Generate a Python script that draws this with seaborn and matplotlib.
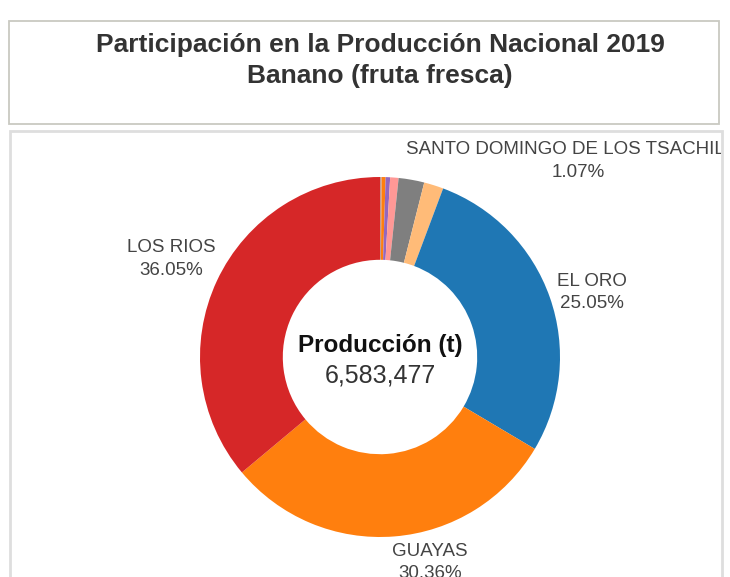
import matplotlib
matplotlib.use("Agg")
import matplotlib.pyplot as plt
import seaborn as sns
from matplotlib.patches import Rectangle

sns.set_theme(style="white")
plt.rcParams["font.family"] = ["Liberation Sans", "DejaVu Sans"]

# ---------------- data ----------------
# slices in clockwise order starting at 12 o'clock
provincias = ["OTRA 1", "OTRA 2", "OTRA 3", "OTRA 4", "OTRA 5",
              "SANTO DOMINGO DE LOS TSACHILAS", "EL ORO", "GUAYAS", "LOS RIOS"]
participacion = [0.15, 0.35, 0.40, 0.75, 2.30, 1.75, 27.80, 30.36, 36.05]
palette_idx = [11, 2, 8, 7, 14, 3, 0, 2, 6]

etiqueta_nombres = ["SANTO DOMINGO DE LOS TSACHILAS", "EL ORO", "GUAYAS", "LOS RIOS"]
etiqueta_pct = ["1.07%", "25.05%", "30.36%", "36.05%"]

titulo_1 = "Participación en la Producción Nacional 2019"
titulo_2 = "Banano (fruta fresca)"
centro_titulo = "Producción (t)"
centro_valor = "6,583,477"

# ---------------- layout ----------------
W, H = 730, 577
CX, CY, R = 380, 357, 180          # donut centre / radius in pixels
label_pos = {                      # (x centre, name baseline, pct baseline) in px
    "SANTO DOMINGO DE LOS TSACHILAS": (578, 154, 177),
    "EL ORO": (592, 286, 308),
    "GUAYAS": (430, 556, 578),
    "LOS RIOS": (171, 252, 275),
}

fig = plt.figure(figsize=(W / 100, H / 100), dpi=100)
fig.patch.set_facecolor("white")


def fig_rect(x0, y0, x1, y1, **kw):
    fig.patches.append(Rectangle((x0 / W, 1 - y1 / H), (x1 - x0) / W, (y1 - y0) / H,
                                 transform=fig.transFigure, fill=False, **kw))


# title box and chart panel borders
fig_rect(9, 21, 719, 124, edgecolor="#c9c9c2", lw=1.3)
fig_rect(10, 131, 722, 590, edgecolor="#dedede", lw=2.0)

fig.text(CX / W, 1 - 52 / H, titulo_1, ha="center", va="baseline",
         fontsize=19, fontweight="bold", color="#333333")
fig.text(CX / W, 1 - 83 / H, titulo_2, ha="center", va="baseline",
         fontsize=19, fontweight="bold", color="#333333")

# axes covering the chart panel, 1 data unit == R pixels
ax0, ax1, ay0, ay1 = 11, 721, 132, 577
ax = fig.add_axes([ax0 / W, 1 - ay1 / H, (ax1 - ax0) / W, (ay1 - ay0) / H])
colors = [sns.color_palette("tab20")[i] for i in palette_idx]
ax.pie(participacion, colors=colors, startangle=90, counterclock=False, radius=1,
       wedgeprops=dict(width=0.46, linewidth=0))
ax.set_xlim((ax0 - CX) / R, (ax1 - CX) / R)
ax.set_ylim((CY - ay1) / R, (CY - ay0) / R)
ax.set_aspect("auto")
ax.axis("off")


def d(px, py):
    return (px - CX) / R, (CY - py) / R


ax.text(*d(CX, 352), centro_titulo, ha="center", va="baseline", fontsize=17.5,
        fontweight="bold", color="#111111")
ax.text(*d(CX, 383), centro_valor, ha="center", va="baseline", fontsize=18,
        color="#333333")

for name, pct in zip(etiqueta_nombres, etiqueta_pct):
    x, y1, y2 = label_pos[name]
    ax.text(*d(x, y1), name, ha="center", va="baseline", fontsize=13.5,
            color="#444444", clip_on=True)
    ax.text(*d(x, y2), pct, ha="center", va="baseline", fontsize=13.5,
            color="#444444", clip_on=True)

fig.savefig("out.png", dpi=100, facecolor="white")
